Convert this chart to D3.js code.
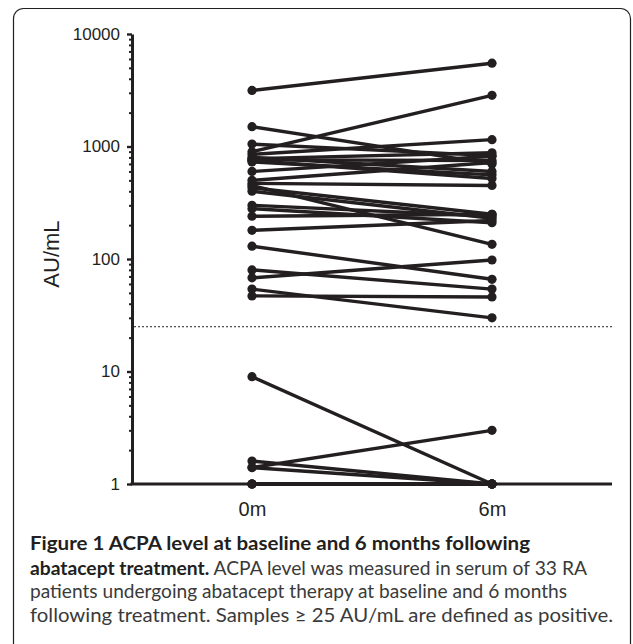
<!DOCTYPE html>
<html>
<head>
<meta charset="utf-8">
<script src="https://cdn.jsdelivr.net/npm/d3@7"></script>
<style>
  body { margin: 0; background: #fff; }
  svg { display: block; }
</style>
</head>
<body>
<div id="chart"></div>
<script>
// time points on the x axis
const timePoints = ["0m", "6m"];

// ACPA level per patient (AU/mL), baseline and 6 months, same order
const baseline = [3150, 1500, 1050, 900, 850, 800, 780, 760, 730, 600, 470, 450, 430, 400,
  300, 280, 240, 180, 130, 80, 68, 54, 47, 750, 500,
  9, 1.6, 1.4, 1.4, 1, 1, 1, 1];
const month6 = [5500, 700, 830, 2850, 1150, 600, 880, 750, 560, 820, 450, 135, 250, 230,
  240, 210, 250, 220, 66, 54, 98, 30, 46, 520, 720,
  1, 1, 3, 1, 1, 1, 1, 1];

const majorTicks = [1, 10, 100, 1000, 10000];
const cutoff = 25;

const captionLines = [
  [{ t: "Figure 1 ACPA level at baseline and 6 months following", b: true }],
  [{ t: "abatacept treatment.", b: true }, { t: " ACPA level was measured in serum of 33 RA", b: false }],
  [{ t: "patients undergoing abatacept therapy at baseline and 6 months", b: false }],
  [{ t: "following treatment. Samples \u2265 25 AU/mL are defined as positive.", b: false }]
];

const width = 633, height = 644;
const ink = "#231f20";

const svg = d3.select("#chart").append("svg")
  .attr("width", width)
  .attr("height", height)
  .attr("font-family", "Liberation Sans, Arial, sans-serif");

// frame round the figure
svg.append("rect")
  .attr("x", 13.5).attr("y", 8.5)
  .attr("width", 617).attr("height", 660)
  .attr("rx", 10)
  .attr("fill", "none")
  .attr("stroke", ink)
  .attr("stroke-width", 1.2);

const y = d3.scaleLog().domain([1, 10000]).range([484, 34]);
const x = d3.scalePoint().domain(timePoints).range([132, 612]).padding(0.5);

// minor ticks 2..9 in each decade
const minorTicks = [];
majorTicks.slice(0, -1).forEach(m => {
  for (let k = 2; k <= 9; k++) minorTicks.push(m * k);
});

const g = svg.append("g");

// cutoff line
g.append("line")
  .attr("x1", 134).attr("x2", 612)
  .attr("y1", y(cutoff)).attr("y2", y(cutoff))
  .attr("stroke", ink)
  .attr("stroke-width", 1)
  .attr("stroke-dasharray", "2,2");

// patient lines
const patients = baseline.map((b, i) => ({ b: b, m: month6[i] }));

g.append("g")
  .selectAll("line")
  .data(patients)
  .join("line")
  .attr("x1", x("0m"))
  .attr("x2", x("6m"))
  .attr("y1", d => y(d.b))
  .attr("y2", d => y(d.m))
  .attr("stroke", ink)
  .attr("stroke-width", 3.4);

const dots = g.append("g").attr("fill", ink);
dots.selectAll("circle.b")
  .data(patients)
  .join("circle")
  .attr("class", "b")
  .attr("cx", x("0m"))
  .attr("cy", d => y(d.b))
  .attr("r", 4.6);
dots.selectAll("circle.m")
  .data(patients)
  .join("circle")
  .attr("class", "m")
  .attr("cx", x("6m"))
  .attr("cy", d => y(d.m))
  .attr("r", 4.6);

// y axis: minor ticks
svg.append("g")
  .attr("transform", "translate(132,0)")
  .call(d3.axisLeft(y).tickValues(minorTicks).tickSize(3).tickFormat(""))
  .call(a => a.select(".domain").remove())
  .call(a => a.selectAll(".tick line").attr("stroke", ink).attr("stroke-width", 2));

// y axis: major ticks and labels
svg.append("g")
  .attr("transform", "translate(132,0)")
  .call(d3.axisLeft(y).tickValues(majorTicks).tickSize(5).tickSizeOuter(0).tickPadding(7).tickFormat(d3.format("d")))
  .call(a => a.select(".domain").attr("stroke", ink).attr("stroke-width", 3))
  .call(a => a.selectAll(".tick line").attr("stroke", ink).attr("stroke-width", 2.4))
  .call(a => a.selectAll(".tick text").attr("fill", ink).attr("font-size", 17));

// x axis
svg.append("g")
  .attr("transform", `translate(0,${y(1)})`)
  .call(d3.axisBottom(x).tickSize(0).tickPadding(18))
  .call(a => a.select(".domain").attr("d", `M130.5,0H612`).attr("stroke", ink).attr("stroke-width", 3))
  .call(a => a.selectAll(".tick text").attr("fill", ink).attr("font-size", 20));

// y axis title
svg.append("text")
  .attr("transform", "translate(59,254) rotate(-90)")
  .attr("text-anchor", "middle")
  .attr("font-size", 22)
  .attr("fill", ink)
  .text("AU/mL");

// caption
const cap = svg.append("g")
  .attr("font-family", "Lato, 'Open Sans', sans-serif")
  .attr("font-size", 19.5);
const baselines = [550, 575, 598, 622];
const lineWidths = [500, 557, 537, 583];
captionLines.forEach((line, i) => {
  const t = cap.append("text")
    .attr("x", 30).attr("y", baselines[i])
    .attr("textLength", lineWidths[i])
    .attr("lengthAdjust", "spacingAndGlyphs");
  line.forEach(part => {
    t.append("tspan")
      .attr("font-weight", part.b ? 700 : 400)
      .attr("fill", part.b ? ink : "#3a3a3a")
      .text(part.t);
  });
});
</script>
</body>
</html>
